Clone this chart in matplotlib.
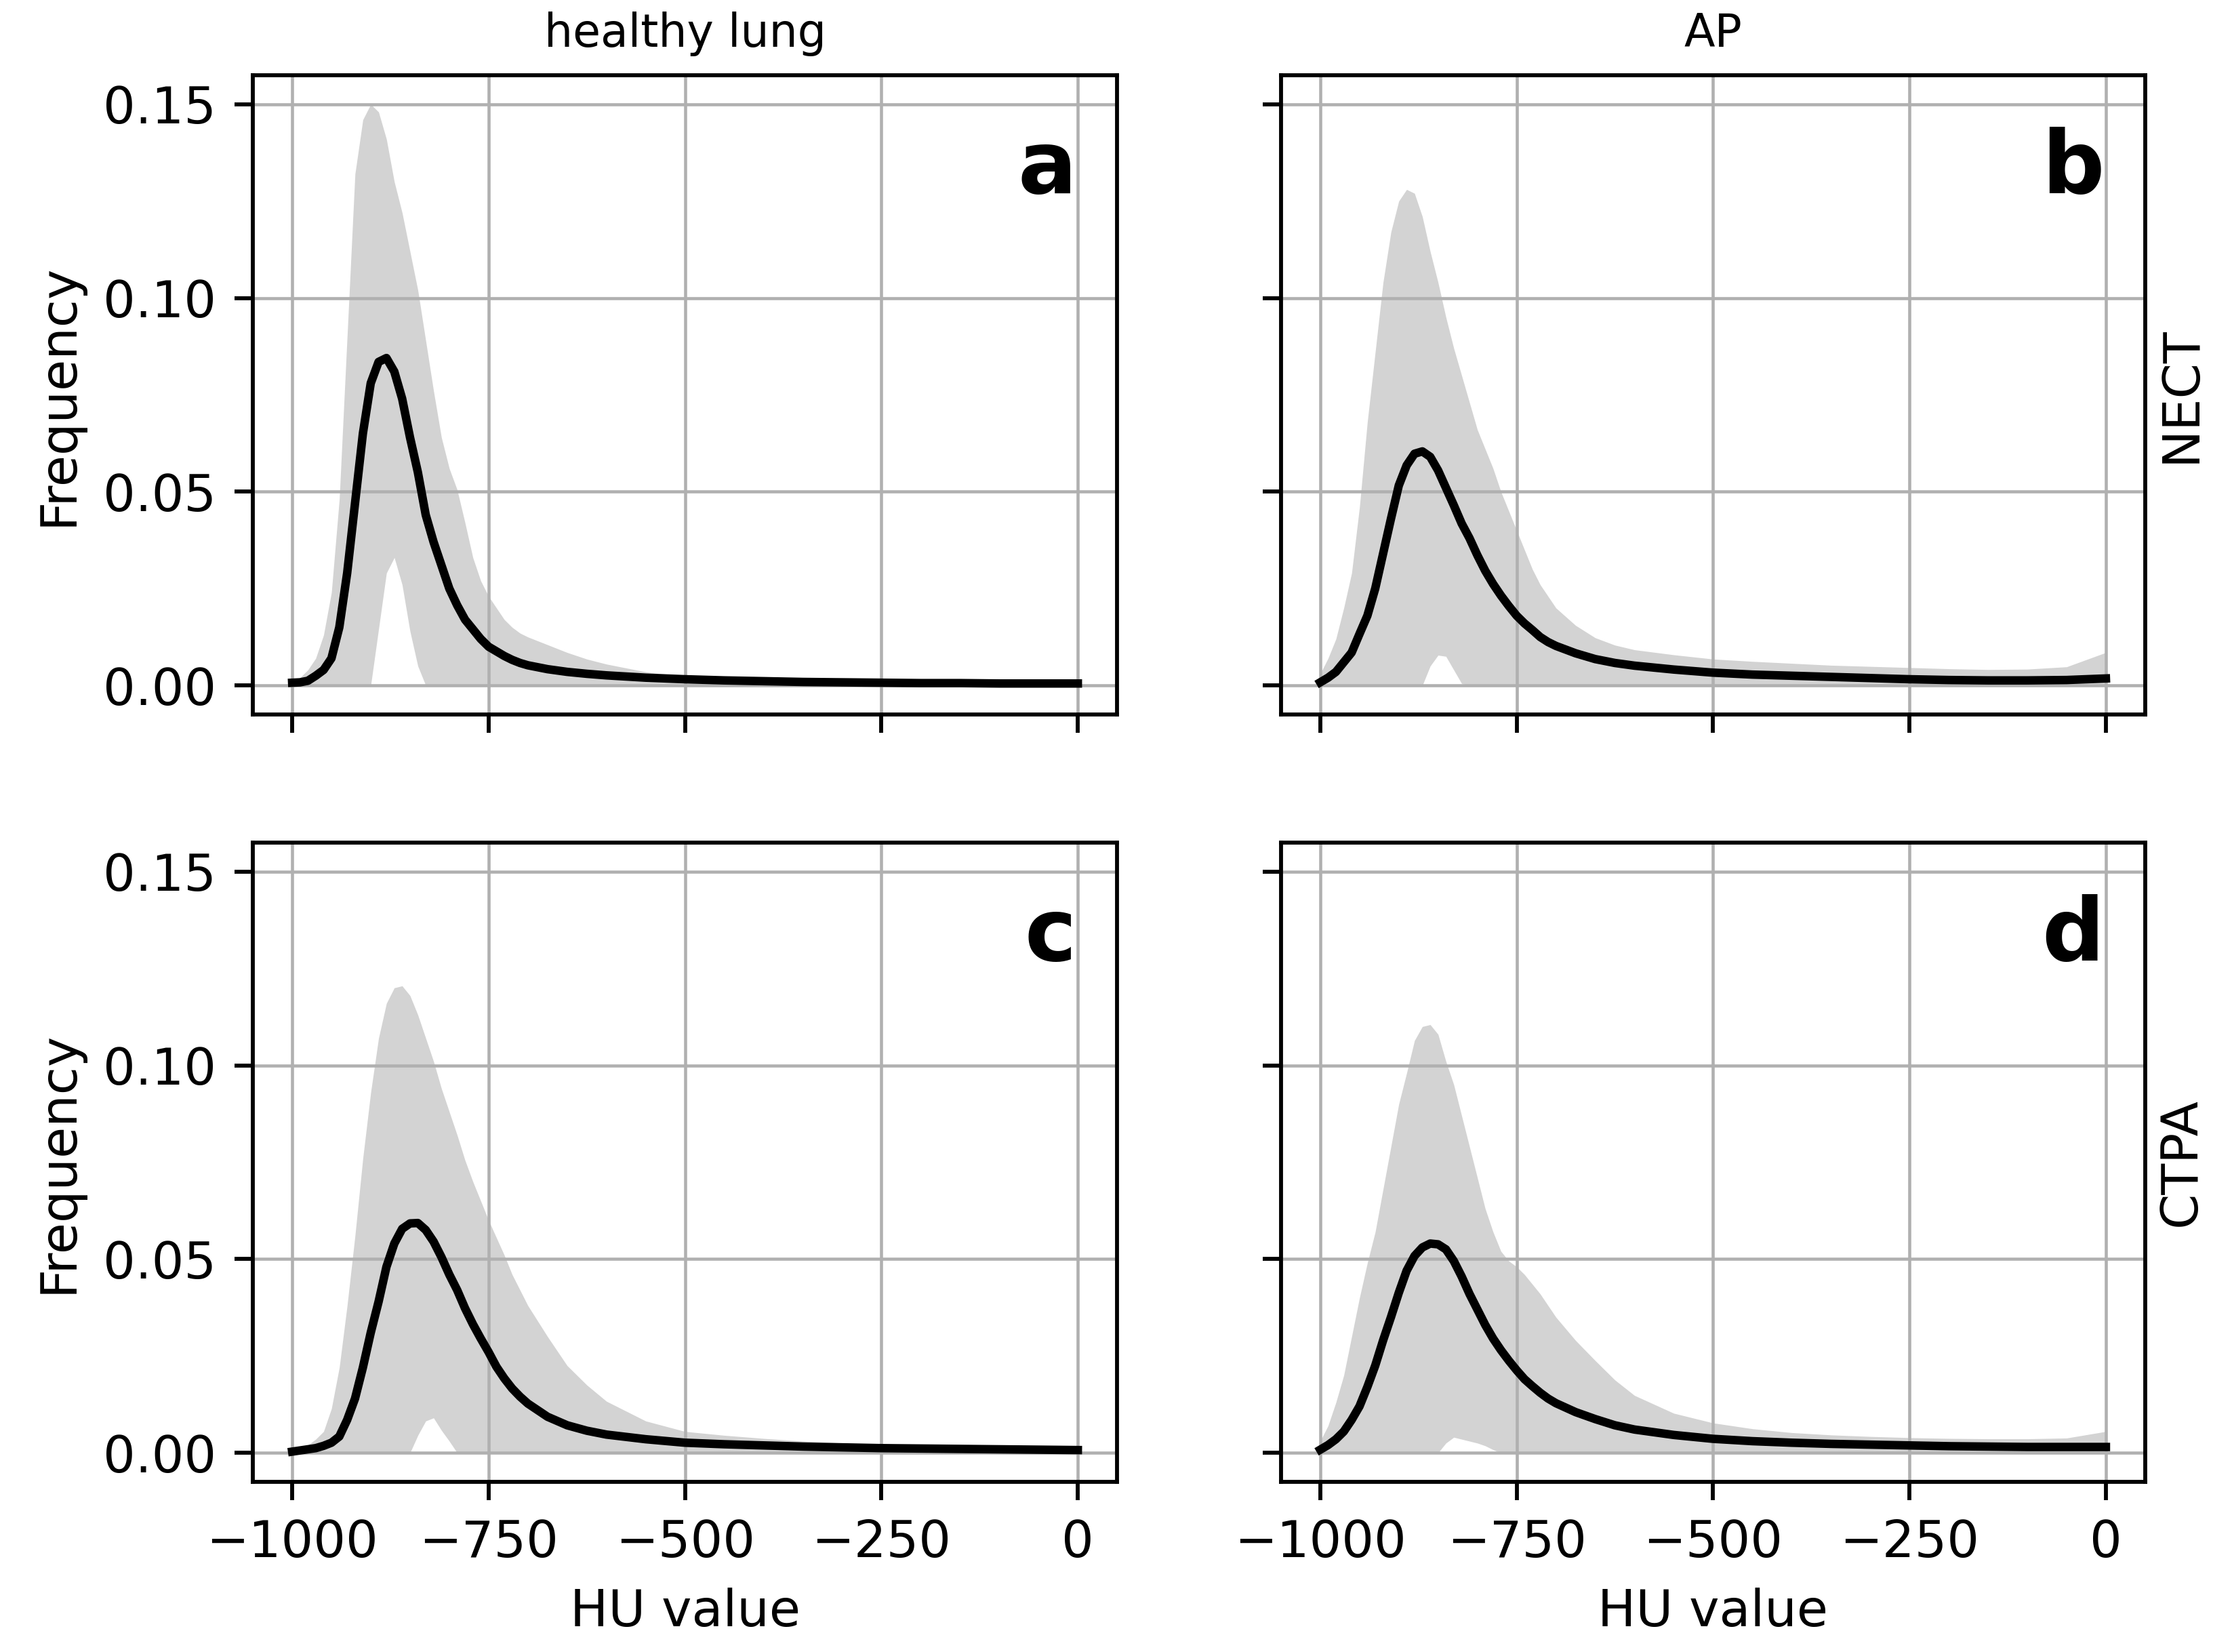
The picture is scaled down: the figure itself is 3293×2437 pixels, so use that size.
import matplotlib
matplotlib.use("Agg")
import matplotlib.pyplot as plt

# HU grid shared by all panels
hu = [-1000, -990, -980, -970, -960, -950, -940, -930, -920, -910,
      -900, -890, -880, -870, -860, -850, -840, -830, -820, -810,
      -800, -790, -780, -770, -760, -750, -740, -730, -720, -710,
      -700, -675, -650, -625, -600, -550, -500, -450, -400, -350,
      -300, -250, -200, -150, -100, -50, 0]

# a: healthy lung / NECT
mean_a = [0.0007, 0.0008, 0.0012, 0.0025, 0.004, 0.007, 0.015, 0.029, 0.047, 0.065,
          0.078, 0.0835, 0.0845, 0.081, 0.074, 0.064, 0.055, 0.044, 0.037, 0.031,
          0.025, 0.0207, 0.017, 0.0145, 0.012, 0.010, 0.0088, 0.0076, 0.0066, 0.0058,
          0.0052, 0.0042, 0.0035, 0.003, 0.0026, 0.002, 0.0016, 0.0013, 0.0011, 0.0009,
          0.0008, 0.0007, 0.0006, 0.0006, 0.0005, 0.0005, 0.0005]
upper_a = [0.001, 0.002, 0.004, 0.007, 0.013, 0.024, 0.048, 0.090, 0.132, 0.146,
           0.150, 0.148, 0.141, 0.130, 0.122, 0.112, 0.102, 0.089, 0.076, 0.064,
           0.056, 0.0505, 0.042, 0.033, 0.027, 0.023, 0.020, 0.017, 0.015, 0.0135,
           0.0125, 0.0105, 0.0085, 0.0068, 0.0055, 0.0035, 0.0022, 0.0015, 0.0011, 0.0008,
           0.0006, 0.0005, 0.0004, 0.0004, 0.0003, 0.0003, 0.0003]
lower_a = [0, 0, 0, 0, 0, 0, 0, 0, 0, 0,
           0, 0.0145, 0.029, 0.033, 0.026, 0.014, 0.005, 0, 0, 0,
           0, 0, 0, 0, 0, 0, 0, 0, 0, 0,
           0, 0, 0, 0, 0, 0, 0, 0, 0, 0,
           0, 0, 0, 0, 0, 0, 0]

# b: AP / NECT
mean_b = [0.0008, 0.002, 0.0035, 0.006, 0.0085, 0.0133, 0.018, 0.025, 0.034, 0.043,
          0.0516, 0.0568, 0.0598, 0.0604, 0.059, 0.0555, 0.051, 0.0465, 0.0418, 0.038,
          0.0336, 0.0296, 0.0262, 0.0232, 0.0205, 0.018, 0.016, 0.0143, 0.0125, 0.0112,
          0.0102, 0.0083, 0.0068, 0.0058, 0.0051, 0.0041, 0.0033, 0.0028, 0.0025, 0.0022,
          0.0019, 0.0016, 0.0014, 0.0013, 0.0013, 0.0014, 0.0018]
upper_b = [0.003, 0.007, 0.012, 0.020, 0.029, 0.046, 0.068, 0.086, 0.104, 0.117,
           0.125, 0.128, 0.127, 0.121, 0.112, 0.104, 0.095, 0.087, 0.080, 0.073,
           0.066, 0.061, 0.056, 0.050, 0.045, 0.040, 0.035, 0.030, 0.026, 0.023,
           0.020, 0.0155, 0.0123, 0.0104, 0.0092, 0.0079, 0.0068, 0.0062, 0.0057, 0.0052,
           0.0049, 0.0046, 0.0043, 0.0041, 0.0042, 0.0048, 0.0085]
lower_b = [0, 0, 0, 0, 0, 0, 0, 0, 0, 0,
           0, 0, 0, 0, 0.005, 0.0078, 0.0075, 0.004, 0.0005, 0,
           0, 0, 0, 0, 0, 0, 0, 0, 0, 0,
           0, 0, 0, 0, 0, 0, 0, 0, 0, 0,
           0, 0, 0, 0, 0, 0, 0]

# c: healthy lung / CTPA
mean_c = [0.0003, 0.0006, 0.0009, 0.0012, 0.0018, 0.0026, 0.0042, 0.0085, 0.014, 0.022,
          0.031, 0.039, 0.048, 0.054, 0.0578, 0.0592, 0.0593, 0.0575, 0.0545, 0.0505,
          0.046, 0.042, 0.0373, 0.0332, 0.0295, 0.026, 0.0222, 0.0192, 0.0166, 0.0145,
          0.0127, 0.0093, 0.0071, 0.0057, 0.0047, 0.0035, 0.0026, 0.0022, 0.0019, 0.0016,
          0.0014, 0.0012, 0.0011, 0.001, 0.0009, 0.0008, 0.0007]
upper_c = [0.0003, 0.001, 0.002, 0.0035, 0.0055, 0.0114, 0.022, 0.038, 0.056, 0.076,
           0.093, 0.107, 0.116, 0.120, 0.1205, 0.118, 0.113, 0.107, 0.101, 0.094,
           0.088, 0.082, 0.0755, 0.070, 0.065, 0.060, 0.0555, 0.051, 0.046, 0.042,
           0.038, 0.030, 0.0225, 0.0175, 0.0133, 0.0082, 0.0055, 0.0045, 0.0037, 0.003,
           0.0025, 0.0022, 0.0018, 0.0015, 0.0013, 0.0012, 0.0011]
lower_c = [0, 0, 0, 0, 0, 0, 0, 0, 0, 0,
           0, 0, 0, 0, 0, 0, 0.0045, 0.0082, 0.009, 0.0058,
           0.003, 0, 0, 0, 0, 0, 0, 0, 0, 0,
           0, 0, 0, 0, 0, 0, 0, 0, 0, 0,
           0, 0, 0, 0, 0, 0, 0]

# d: AP / CTPA
mean_d = [0.0008, 0.002, 0.0035, 0.0055, 0.0085, 0.012, 0.017, 0.0225, 0.029, 0.035,
          0.0413, 0.047, 0.0508, 0.053, 0.054, 0.0538, 0.0525, 0.0495, 0.0455, 0.041,
          0.037, 0.033, 0.0295, 0.0265, 0.0238, 0.0213, 0.019, 0.0172, 0.0155, 0.014,
          0.0128, 0.0105, 0.0087, 0.0071, 0.006, 0.0046, 0.0036, 0.003, 0.0026, 0.0023,
          0.0021, 0.0019, 0.0017, 0.0016, 0.0015, 0.0015, 0.0015]
upper_d = [0.003, 0.007, 0.013, 0.020, 0.030, 0.040, 0.049, 0.057, 0.068, 0.079,
           0.090, 0.098, 0.1064, 0.110, 0.1105, 0.108, 0.101, 0.095, 0.087, 0.079,
           0.071, 0.063, 0.057, 0.052, 0.0495, 0.048, 0.046, 0.0435, 0.041, 0.038,
           0.035, 0.029, 0.0238, 0.0188, 0.0148, 0.0102, 0.0077, 0.0062, 0.0052, 0.0046,
           0.0042, 0.0039, 0.0037, 0.0036, 0.0036, 0.0038, 0.0055]
lower_d = [0, 0, 0, 0, 0, 0, 0, 0, 0, 0,
           0, 0, 0, 0, 0, 0, 0.0025, 0.004, 0.0035, 0.003,
           0.0025, 0.0018, 0.0008, 0, 0, 0, 0, 0, 0, 0,
           0, 0, 0, 0, 0, 0, 0, 0, 0, 0,
           0, 0, 0, 0, 0, 0, 0]

col_titles = ["healthy lung", "AP"]
row_labels = ["NECT", "CTPA"]
x_ticks = [-1000, -750, -500, -250, 0]
y_ticks = [0.00, 0.05, 0.10, 0.15]

panels = [
    ("a", mean_a, upper_a, lower_a),
    ("b", mean_b, upper_b, lower_b),
    ("c", mean_c, upper_c, lower_c),
    ("d", mean_d, upper_d, lower_d),
]

fig = plt.figure(figsize=(3293 / 300, 2437 / 300), dpi=300)

lefts = [0.1133, 0.5739]
bottoms = [0.5675, 0.1030]
w, h = 0.3872, 0.3870

for i, (letter, mean, upper, lower) in enumerate(panels):
    r, c = divmod(i, 2)
    ax = fig.add_axes([lefts[c], bottoms[r], w, h])
    ax.fill_between(hu, lower, upper, color="lightgray", linewidth=0)
    ax.plot(hu, mean, color="black", lw=3.0)
    ax.set_xlim(-1050, 50)
    ax.set_ylim(-0.0075, 0.1575)
    ax.set_xticks(x_ticks)
    ax.set_yticks(y_ticks)
    ax.grid(True, color="#b0b0b0", lw=1.1)
    for sp in ax.spines.values():
        sp.set_linewidth(1.4)
    ax.tick_params(labelsize=18, length=6.5, width=1.4, pad=6.5)
    ax.text(0.953, 0.8155, letter, transform=ax.transAxes, ha="right",
            va="baseline", fontsize=31, fontweight="bold")
    if r == 0:
        ax.tick_params(labelbottom=False)
        ax.set_title(col_titles[c], fontsize=16, pad=10)
    else:
        ax.set_xlabel("HU value", fontsize=18, labelpad=7)
    if c == 0:
        ax.set_ylabel("Frequency", fontsize=18, labelpad=7)
    else:
        ax.tick_params(labelleft=False)
        ax.yaxis.set_label_position("right")
        ax.set_ylabel(row_labels[r], fontsize=18, labelpad=4)

fig.savefig("out.png", dpi=300)
